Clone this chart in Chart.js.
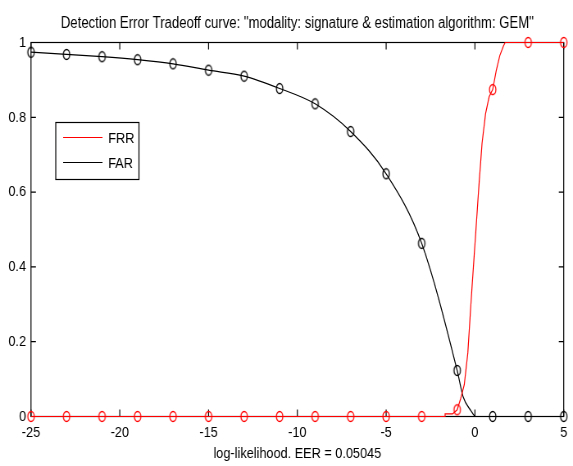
<!DOCTYPE html>
<html>
<head>
<meta charset="utf-8">
<script src="https://cdn.jsdelivr.net/npm/chart.js@4.4.1/dist/chart.umd.min.js"></script>
<style>
  html, body { margin: 0; padding: 0; background: #fff; overflow: hidden; }
  /* figure is laid out wide and squeezed horizontally, like the exported plot */
  #det { position: absolute; left: 0; top: 0; transform: scaleX(0.8197); transform-origin: 0 0; }
</style>
</head>
<body>
<canvas id="det" width="699" height="466"></canvas>
<script>
const TITLE = 'Detection Error Tradeoff curve: "modality: signature & estimation algorithm: GEM"';
const X_LABEL = "log-likelihood. EER = 0.05045";
const X_TICKS = [-25, -20, -15, -10, -5, 0, 5];
const Y_TICKS = [0, 0.2, 0.4, 0.6, 0.8, 1];
// circles are only drawn at these log-likelihood values
const MARKER_X = [-25, -23, -21, -19, -17, -15, -13, -11, -9, -7, -5, -3, -1, 1, 3, 5];

// false rejection rate
const frrX = [-25, -23, -21, -19, -17, -15, -13, -11, -9, -7, -5, -3, -1.7, -1.68, -1.26, -1,
  -0.8, -0.6, -0.4, -0.2, 0, 0.2, 0.4, 0.6, 0.8, 1, 1.2, 1.4, 1.6, 1.7, 3, 5];
const frrY = [0, 0, 0, 0, 0, 0, 0, 0, 0, 0, 0, 0, 0, 0.007, 0.007, 0.018,
  0.048, 0.085, 0.17, 0.32, 0.46, 0.6, 0.73, 0.81, 0.855, 0.874, 0.925, 0.965, 0.99, 1, 1, 1];

// false acceptance rate
const farX = [-25, -23, -21, -19, -17, -15, -13, -11, -9, -7, -5, -3, -1, -0.66, -0.23, 0.05, 1, 3, 5];
const farY = [0.974, 0.968, 0.962, 0.954, 0.943, 0.926, 0.91, 0.877, 0.836, 0.762, 0.649, 0.463,
  0.123, 0.052, 0.016, 0, 0, 0, 0];

const FONT_FAMILY = "'Liberation Sans', Arial, sans-serif";
const LABEL_FONT = { family: FONT_FAMILY, size: 15.5 };
const INK = "#000";

function ellipseMarker(color) {
  const c = document.createElement("canvas");
  c.width = 12;
  c.height = 13;
  const g = c.getContext("2d");
  g.strokeStyle = color;
  g.lineWidth = 1.3;
  g.beginPath();
  g.ellipse(6, 6.5, 3.9, 5, 0, 0, Math.PI * 2);
  g.stroke();
  return c;
}

function toPoints(xs, ys) {
  return xs.map((x, i) => ({ x, y: ys[i] }));
}

const markerRadius = (ctx) => (MARKER_X.includes(ctx.raw && ctx.raw.x) ? 5 : 0);

// axes box with inward tick marks on all four sides
const axesBox = {
  id: "axesBox",
  beforeDatasetsDraw(chart) {
    const { ctx, chartArea: a, scales: { x, y } } = chart;
    ctx.save();
    ctx.strokeStyle = INK;
    ctx.lineWidth = 1.2;
    ctx.strokeRect(a.left, a.top, a.right - a.left, a.bottom - a.top);
    ctx.beginPath();
    for (const t of x.ticks) {
      const px = x.getPixelForValue(t.value);
      ctx.moveTo(px, a.bottom);
      ctx.lineTo(px, a.bottom - 7);
      ctx.moveTo(px, a.top);
      ctx.lineTo(px, a.top + 7);
    }
    for (const t of y.ticks) {
      const py = y.getPixelForValue(t.value);
      ctx.moveTo(a.left, py);
      ctx.lineTo(a.left + 6, py);
      ctx.moveTo(a.right, py);
      ctx.lineTo(a.right - 6, py);
    }
    ctx.stroke();
    ctx.restore();
  },
};

// boxed legend sitting inside the axes, plus the title centred over the axes
const boxLegend = {
  id: "boxLegend",
  afterDatasetsDraw(chart) {
    const { ctx, chartArea: a } = chart;
    ctx.save();
    ctx.fillStyle = "#fff";
    ctx.fillRect(68, 122.5, 101.5, 57);
    ctx.strokeStyle = INK;
    ctx.lineWidth = 1.2;
    ctx.strokeRect(68, 122.5, 101.5, 57);
    ctx.font = `15.5px ${FONT_FAMILY}`;
    ctx.textBaseline = "middle";
    chart.data.datasets.forEach((ds, i) => {
      const ly = 137.5 + i * 25;
      ctx.strokeStyle = ds.borderColor;
      ctx.lineWidth = 1.2;
      ctx.beginPath();
      ctx.moveTo(77, ly);
      ctx.lineTo(125, ly);
      ctx.stroke();
      ctx.fillStyle = INK;
      ctx.fillText(ds.label, 132, ly + 1);
    });

    ctx.font = `16px ${FONT_FAMILY}`;
    ctx.textAlign = "center";
    ctx.textBaseline = "alphabetic";
    ctx.fillStyle = INK;
    ctx.fillText(TITLE, (a.left + a.right) / 2, 27.7);
    ctx.restore();
  },
};

new Chart(document.getElementById("det"), {
  type: "line",
  data: {
    datasets: [
      {
        label: "FRR",
        data: toPoints(frrX, frrY),
        borderColor: "#ff0000",
        borderWidth: 1.2,
        tension: 0,
        pointStyle: ellipseMarker("#ff0000"),
        pointRadius: markerRadius,
        clip: 12,
      },
      {
        label: "FAR",
        data: toPoints(farX, farY),
        borderColor: "#000000",
        borderWidth: 1.2,
        cubicInterpolationMode: "monotone",
        pointStyle: ellipseMarker("#000000"),
        pointRadius: markerRadius,
        clip: 12,
      },
    ],
  },
  options: {
    responsive: false,
    devicePixelRatio: 1,
    animation: false,
    layout: { padding: { top: 42.5, right: 6, left: 0, bottom: 0 } },
    plugins: {
      legend: { display: false },
      tooltip: { enabled: false },
    },
    scales: {
      x: {
        type: "linear",
        min: -25,
        max: 5,
        grid: { display: false, drawTicks: false },
        border: { display: false },
        afterBuildTicks: (s) => { s.ticks = X_TICKS.map((value) => ({ value })); },
        afterFit: (s) => { s.height = 49.5; },
        ticks: {
          font: LABEL_FONT, color: INK, padding: 7, maxRotation: 0, autoSkip: false,
          callback: (v) => `${v}`,
        },
        title: {
          display: true,
          text: X_LABEL,
          font: LABEL_FONT,
          color: INK,
          padding: { top: 0, bottom: 2.5 },
        },
      },
      y: {
        min: 0,
        max: 1,
        grid: { display: false, drawTicks: false },
        border: { display: false },
        afterBuildTicks: (s) => { s.ticks = Y_TICKS.map((value) => ({ value })); },
        afterFit: (s) => { s.width = 37.8; },
        ticks: { font: LABEL_FONT, color: INK, padding: 6, callback: (v) => `${v}` },
      },
    },
  },
  plugins: [axesBox, boxLegend],
});
</script>
</body>
</html>
